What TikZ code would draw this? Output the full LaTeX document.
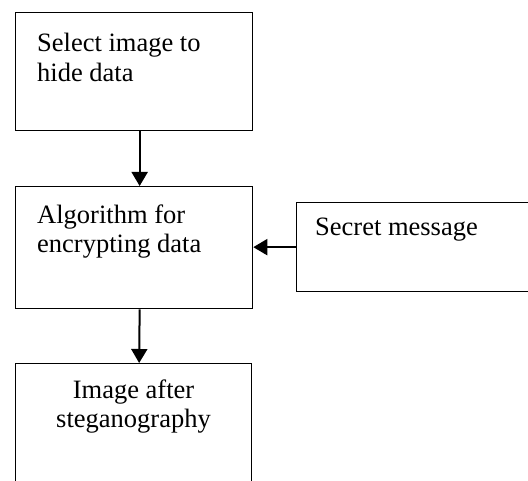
\documentclass[tikz,border=0pt]{standalone}
\usepackage{fontspec}
\setmainfont{Liberation Serif}
\usetikzlibrary{arrows.meta}
\begin{document}
\begin{tikzpicture}[x=1pt,y=1pt,
  box/.style={draw=black, line width=1.3pt, rectangle, inner sep=0pt, anchor=north west},
  txt/.style={font=\fontsize{26.5}{29.5}\selectfont, inner sep=0pt, anchor=base west},
  ctxt/.style={txt, anchor=base},
  flow/.style={line width=2pt, -{Triangle[length=14pt,width=16pt]}}]
\useasboundingbox (0,0) rectangle (528,-481);
\clip (0,0) rectangle (528,-481);
\node[box, minimum width=237pt, minimum height=118pt] (b1) at (15,-12) {};
\node[box, minimum width=237pt, minimum height=122pt] (b2) at (15,-186) {};
\node[box, minimum width=236pt, minimum height=140pt] (b3) at (15,-363) {};
\node[box, minimum width=250pt, minimum height=89pt] (sm) at (296,-202) {};
\node[txt] (t1a) at (37,-52) {Select image to};
\node[txt] (t1b) at (37,-82) {hide data};
\node[txt] (t2a) at (37,-224) {Algorithm for};
\node[txt] (t2b) at (37,-253) {encrypting data};
\node[ctxt] (t3a) at (133.5,-399) {Image after};
\node[ctxt] (t3b) at (133.5,-428) {steganography};
\node[txt] (t4) at (315,-236) {Secret message};
\draw[flow] ([xshift=5.5pt]b1.south) -- ([xshift=5.5pt]b2.north);
\draw[flow] ([xshift=5.5pt]b2.south) -- ([xshift=5.5pt]b3.north);
\draw[flow] (sm.west) -- (sm.west -| b2.east);
\end{tikzpicture}
\end{document}
